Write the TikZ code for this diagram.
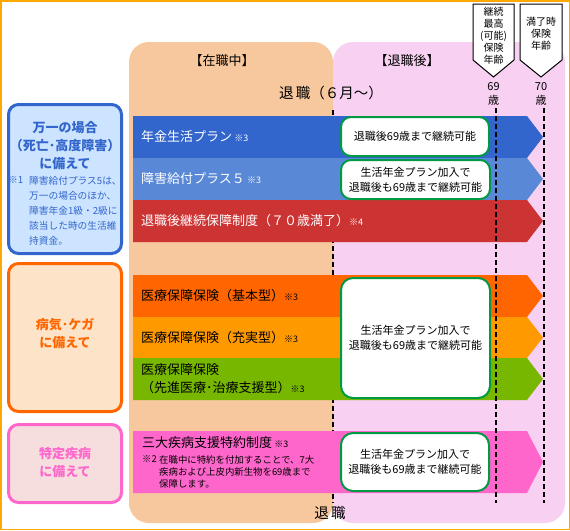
\documentclass[tikz,border=0pt]{standalone}
\usepackage{fontspec}
\setmainfont{Noto Sans CJK JP}
\usetikzlibrary{positioning}
\definecolor{frameOrange}{RGB}{255,168,0}
\definecolor{workFill}{RGB}{247,199,157}
\definecolor{retireFill}{RGB}{248,208,241}
\definecolor{planBlue}{RGB}{51,102,204}
\definecolor{planSky}{RGB}{88,136,214}
\definecolor{planRed}{RGB}{204,51,51}
\definecolor{planOrange}{RGB}{255,102,0}
\definecolor{planAmber}{RGB}{255,153,0}
\definecolor{planGreen}{RGB}{119,183,0}
\definecolor{planPink}{RGB}{255,102,204}
\definecolor{noteGreen}{RGB}{0,153,68}
\definecolor{lifeFill}{RGB}{204,228,255}
\definecolor{sickFill}{RGB}{253,228,200}
\definecolor{diseaseFill}{RGB}{247,222,222}
\tikzset{
  guide/.style={draw=black, line width=2pt, dash pattern=on 5pt off 3pt},
  phase/.style={rounded corners=20pt},
  phasetitle/.style={font=\fontsize{13}{16}\selectfont},
  category/.style={
    rounded corners=10pt,
    line width=3pt,
    minimum width=113pt
  },
  cattitle/.style={font=\fontsize{13}{18}\selectfont\bfseries, align=center},
  catnote/.style={font=\fontsize{9.7}{15}\selectfont, align=left, inner sep=0pt},
  planlabel/.style={anchor=west, inner sep=0pt, align=left, font=\fontsize{13}{18}\selectfont},
  barnote/.style={font=\fontsize{9.4}{12}\selectfont, align=left, inner sep=0pt},
  continuebox/.style={
    draw=noteGreen,
    fill=white,
    line width=2pt,
    rounded corners=10pt,
    align=center,
    inner sep=0pt,
    font=\fontsize{11}{15}\selectfont
  },
  agetag/.style={draw=black, fill=white, line width=1pt},
  tagtext/.style={font=\fontsize{10}{12}\selectfont, align=center, inner sep=0pt}
}
\newcommand{\refm}[1]{{\fontsize{9}{9}\selectfont #1}}
\newcommand{\PlanBar}[4]{%
  \fill[#2] (133,#3) -- (527,#3) -- (543,{(#3+#4)/2}) -- (527,#4) -- (133,#4) -- cycle;
  \coordinate (#1) at (133,{(#3+#4)/2});
}
\begin{document}
\begin{tikzpicture}[x=1pt,y=-1pt]
  \useasboundingbox (0,0) rectangle (570,530);
  \draw[frameOrange, line width=1.5pt] (0.75,0.75) rectangle (569.25,529.25);

  % phases
  \fill[workFill, phase] (129,42) rectangle (333,523);
  \fill[retireFill, phase] (333,42) rectangle (565,523);
  \node[phasetitle] (workTitle) at (222,61) {【在職中】};
  \node[phasetitle] (retireTitle) at (407,61) {【退職後】};
  \node[font=\fontsize{14.5}{16}\selectfont] (retireMonth) at (331,93) {退\,職（６月～）};
  \node[font=\fontsize{14.5}{16}\selectfont] (retireFoot) at (330,513) {退\,職};

  \coordinate (retireTop) at (333,110);
  \coordinate (retireEnd) at (333,503);
  \draw[guide] (retireTop) -- (retireEnd);

  % plan bars
  \PlanBar{pension}{planBlue}{116}{158}
  \PlanBar{disability}{planSky}{158}{200}
  \PlanBar{continued}{planRed}{200}{242}
  \PlanBar{medBasic}{planOrange}{275}{317}
  \PlanBar{medPlus}{planAmber}{317}{358}
  \PlanBar{medAdvanced}{planGreen}{358}{400}
  \PlanBar{critical}{planPink}{431}{493}

  \node[planlabel, text=white] (pensionLbl) at ([xshift=8pt]pension) {年金生活プラン\,\refm{※3}};
  \node[planlabel, text=white] (disabilityLbl) at ([xshift=8pt]disability) {障害給付プラス５\,\refm{※3}};
  \node[planlabel, text=white] (continuedLbl) at ([xshift=8pt]continued) {退職後継続保障制度（７０歳満了）\refm{※4}};
  \node[planlabel] (medBasicLbl) at ([xshift=8pt]medBasic) {医療保障保険（基本型）\refm{※3}};
  \node[planlabel] (medPlusLbl) at ([xshift=8pt]medPlus) {医療保障保険（充実型）\refm{※3}};
  \node[planlabel] (medAdvancedLbl) at ([xshift=8pt]medAdvanced) {医療保障保険\\（先進医療･治療支援型）\refm{※3}};
  \node[planlabel] (criticalLbl) at (142,443) {三大疾病支援特約制度\,\refm{※3}};
  \node[barnote, anchor=north west] (criticalMark) at (142,455) {※2};
  \node[barnote, anchor=north west] (criticalNote) at (159,455) {在職中に特約を付加することで、7大\\疾病および上皮内新生物を69歳まで\\保障します。};

  % continuation notes
  \node[continuebox, minimum width=148pt, minimum height=39pt] (pensionCont) at (415,136.5) {退職後69歳まで継続可能};
  \node[continuebox, minimum width=149pt, minimum height=39pt] (disabilityCont) at (415.5,179.5) {生活年金プラン加入で\\退職後も69歳まで継続可能};
  \node[continuebox, minimum width=149pt, minimum height=120pt, rounded corners=12pt] (medicalCont) at (415.5,338) {生活年金プラン加入で\\退職後も69歳まで継続可能};
  \node[continuebox, minimum width=148pt, minimum height=58pt, rounded corners=12pt] (criticalCont) at (415,462) {生活年金プラン加入で\\退職後も69歳まで継続可能};

  % age limits
  \coordinate (age69Top) at (496,108);
  \coordinate (age69End) at (496,503);
  \coordinate (age70Top) at (544,108);
  \coordinate (age70End) at (544,503);
  \draw[guide] (age69Top) -- (age69End);
  \draw[guide] (age70Top) -- (age70End);

  \draw[agetag] (473,4) -- (514,4) -- (514,60) -- (493.5,77) -- (473,60) -- cycle;
  \node[tagtext] (maxAgeTag) at (493.5,36) {継続\\最高\\(可能)\\保険\\年齢};
  \draw[agetag] (520,4) -- (562,4) -- (562,60) -- (541,77) -- (520,60) -- cycle;
  \node[tagtext] (endAgeTag) at (541,34) {満了時\\保険\\年齢};
  \node[font=\fontsize{11}{14}\selectfont, align=center] (age69) at (493.5,94) {69\\歳};
  \node[font=\fontsize{11}{14}\selectfont, align=center] (age70) at (541,94) {70\\歳};

  % categories
  \node[category, draw=planBlue, fill=lifeFill, minimum height=149pt] (lifeBox) at (65,179) {};
  \node[cattitle, text=planBlue] (lifeTitle) at (65,145.5) {万一の場合\\（死亡･高度障害）\\に備えて};
  \node[catnote, text=planBlue, anchor=north west] (lifeMark) at (8,176) {※1};
  \node[catnote, text=planBlue, anchor=north west] (lifeNote) at (29,176) {障害給付プラス5は、\\万一の場合のほか、\\障害年金1級・2級に\\該当した時の生活維\\持資金。};

  \node[category, draw=planOrange, fill=sickFill, minimum height=148pt] (sickBox) at (65,337.5) {};
  \node[cattitle, text=planOrange] (sickTitle) at (65,334) {病気･ケガ\\に備えて};

  \node[category, draw=planPink, fill=diseaseFill, minimum height=78pt] (diseaseBox) at (65,463.5) {};
  \node[cattitle, text=planPink] (diseaseTitle) at (65,462.5) {特定疾病\\に備えて};
\end{tikzpicture}
\end{document}
